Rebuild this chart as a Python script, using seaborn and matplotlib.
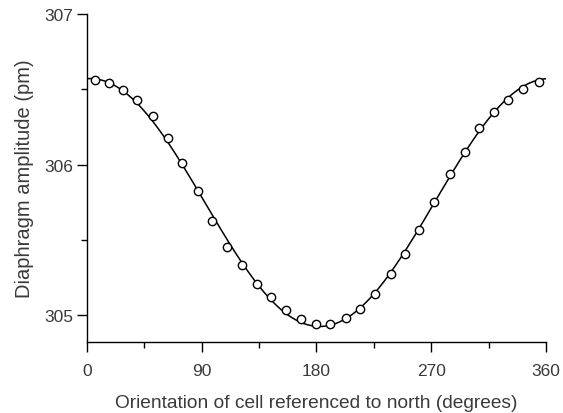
import numpy as np
import pandas as pd
import matplotlib
matplotlib.use("Agg")
import matplotlib.pyplot as plt
import seaborn as sns
from matplotlib.ticker import MultipleLocator

# orientation (degrees) and diaphragm amplitude (pm)
orientation = [6.0, 16.9, 28.2, 39.5, 51.8, 63.2, 74.5, 86.7, 98.0, 109.5,
               121.6, 133.0, 144.7, 156.3, 168.1, 179.6, 190.3, 203.4, 214.4, 226.1,
               238.4, 249.3, 260.6, 272.4, 285.0, 296.2, 307.5, 319.5, 330.4, 341.8,
               354.7]
amplitude = [306.566, 306.540, 306.495, 306.433, 306.323, 306.175, 306.010, 305.822, 305.622, 305.455,
             305.330, 305.207, 305.118, 305.033, 304.970, 304.943, 304.943, 304.981, 305.041, 305.140,
             305.270, 305.403, 305.566, 305.754, 305.937, 306.087, 306.242, 306.353, 306.430, 306.506,
             306.551]

df = pd.DataFrame({"theta": orientation, "amp": amplitude})

# least-squares cosine fit through the measured points
th = np.radians(df["theta"].values)
A = np.column_stack([np.ones_like(th), np.cos(th), np.sin(th)])
coef = np.linalg.lstsq(A, df["amp"].values, rcond=None)[0]
grid = np.linspace(0, 360, 361)
gr = np.radians(grid)
fit = pd.DataFrame({"theta": grid,
                    "amp": coef[0] + coef[1] * np.cos(gr) + coef[2] * np.sin(gr)})

sns.set_style("ticks")
plt.rcParams['font.family'] = ['Liberation Sans', 'DejaVu Sans']
txt = "#3a3a3a"

fig = plt.figure(figsize=(5.63, 4.14), dpi=100)
ax = fig.add_axes([0.1545, 0.1715, 0.8153, 0.7915])

sns.lineplot(data=fit, x="theta", y="amp", color="black", linewidth=1.1, ax=ax)
sns.scatterplot(data=df, x="theta", y="amp", marker="o", s=36,
                facecolor="white", edgecolor="black", linewidth=1.0, ax=ax, zorder=3)

ax.set_xlim(0, 360)
ax.set_ylim(304.82, 307.0)
ax.set_xticks([0, 90, 180, 270, 360])
ax.xaxis.set_minor_locator(MultipleLocator(45))
ax.set_yticks([305, 306, 307])
ax.yaxis.set_minor_locator(MultipleLocator(0.5))
ax.tick_params(axis="both", which="major", length=7, width=1, color="black",
               labelsize=12.5, labelcolor=txt, pad=3)
ax.tick_params(axis="x", which="major", pad=8)
ax.tick_params(axis="both", which="minor", length=4, width=1, color="black")

for s in ["top", "right"]:
    ax.spines[s].set_visible(False)
for s in ["left", "bottom"]:
    ax.spines[s].set_linewidth(1.0)
    ax.spines[s].set_color("black")

ax.set_xlabel("Orientation of cell referenced to north (degrees)", fontsize=13.8,
              color=txt, labelpad=12)
ax.set_ylabel("Diaphragm amplitude (pm)", fontsize=14.5, color=txt, labelpad=7)

fig.savefig("out.png", dpi=100)
